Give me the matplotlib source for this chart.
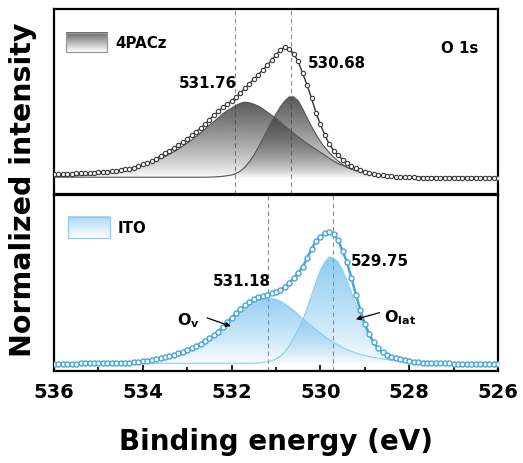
import numpy as np
import matplotlib
matplotlib.use("Agg")
import matplotlib.pyplot as plt
from matplotlib.colors import to_rgb
from matplotlib.patches import Rectangle

# ---------------- data ----------------
energy = np.linspace(536.0, 526.0, 101)   # binding-energy grid, 0.1 eV step

pacz_data = [
    0.033, 0.033, 0.034, 0.035, 0.036, 0.037, 0.038, 0.040, 0.041, 0.043,
    0.045, 0.048, 0.051, 0.055, 0.058, 0.062, 0.068, 0.074, 0.080, 0.092,
    0.105, 0.117, 0.130, 0.150, 0.170, 0.190, 0.210, 0.230, 0.250, 0.275,
    0.300, 0.328, 0.355, 0.383, 0.410, 0.445, 0.480, 0.510, 0.540, 0.565,
    0.590, 0.620, 0.650, 0.685, 0.720, 0.755, 0.790, 0.825, 0.860, 0.900,
    0.940, 0.980, 1.000, 0.985, 0.950, 0.890, 0.800, 0.710, 0.610, 0.500,
    0.410, 0.330, 0.260, 0.210, 0.175, 0.140, 0.115, 0.090, 0.075, 0.062,
    0.050, 0.041, 0.033, 0.027, 0.022, 0.018, 0.015, 0.012, 0.010, 0.008,
    0.007, 0.006, 0.005, 0.005, 0.004, 0.004, 0.003, 0.003, 0.003, 0.002,
    0.002, 0.002, 0.001, 0.001, 0.001, 0.001, 0.000, 0.000, 0.000, 0.000,
    0.000]

pacz_peak1 = [   # component centred at 531.76 eV
    0.012, 0.013, 0.014, 0.015, 0.016, 0.018, 0.020, 0.022, 0.025, 0.028,
    0.032, 0.036, 0.040, 0.044, 0.048, 0.052, 0.058, 0.064, 0.072, 0.085,
    0.097, 0.110, 0.123, 0.136, 0.150, 0.165, 0.183, 0.202, 0.222, 0.245,
    0.268, 0.292, 0.318, 0.345, 0.375, 0.405, 0.432, 0.460, 0.490, 0.515,
    0.535, 0.556, 0.572, 0.580, 0.575, 0.565, 0.550, 0.530, 0.505, 0.480,
    0.455, 0.428, 0.398, 0.370, 0.342, 0.315, 0.290, 0.265, 0.242, 0.220,
    0.198, 0.175, 0.153, 0.130, 0.112, 0.097, 0.083, 0.070, 0.060, 0.052,
    0.045, 0.039, 0.033, 0.028, 0.023, 0.019, 0.016, 0.013, 0.011, 0.010,
    0.009, 0.008, 0.008, 0.008, 0.008, 0.008, 0.008, 0.008, 0.008, 0.008,
    0.008, 0.008, 0.008, 0.008, 0.008, 0.008, 0.008, 0.008, 0.008, 0.008,
    0.008]

pacz_peak2 = [   # component centred at 530.68 eV
    0.008, 0.008, 0.008, 0.008, 0.008, 0.008, 0.008, 0.008, 0.008, 0.008,
    0.008, 0.008, 0.008, 0.008, 0.008, 0.008, 0.008, 0.008, 0.008, 0.008,
    0.008, 0.008, 0.008, 0.008, 0.008, 0.008, 0.008, 0.008, 0.008, 0.008,
    0.008, 0.008, 0.008, 0.008, 0.008, 0.009, 0.010, 0.012, 0.015, 0.019,
    0.025, 0.036, 0.055, 0.085, 0.125, 0.175, 0.235, 0.300, 0.365, 0.430,
    0.490, 0.545, 0.590, 0.620, 0.620, 0.590, 0.530, 0.460, 0.395, 0.335,
    0.280, 0.235, 0.195, 0.160, 0.130, 0.105, 0.085, 0.070, 0.058, 0.048,
    0.040, 0.033, 0.027, 0.022, 0.018, 0.015, 0.013, 0.011, 0.010, 0.009,
    0.008, 0.008, 0.008, 0.008, 0.008, 0.008, 0.008, 0.008, 0.008, 0.008,
    0.008, 0.008, 0.008, 0.008, 0.008, 0.008, 0.008, 0.008, 0.008, 0.008,
    0.008]

ito_data = [
    0.004, 0.004, 0.004, 0.005, 0.005, 0.005, 0.006, 0.006, 0.007, 0.007,
    0.008, 0.008, 0.009, 0.010, 0.010, 0.011, 0.012, 0.013, 0.015, 0.018,
    0.021, 0.025, 0.031, 0.037, 0.044, 0.052, 0.062, 0.072, 0.083, 0.095,
    0.108, 0.122, 0.137, 0.155, 0.175, 0.195, 0.218, 0.245, 0.280, 0.318,
    0.352, 0.385, 0.415, 0.445, 0.470, 0.490, 0.505, 0.515, 0.525, 0.535,
    0.548, 0.563, 0.585, 0.615, 0.650, 0.690, 0.735, 0.800, 0.870, 0.930,
    0.960, 0.990, 1.000, 0.985, 0.935, 0.855, 0.770, 0.650, 0.525, 0.410,
    0.305, 0.225, 0.165, 0.120, 0.090, 0.072, 0.058, 0.046, 0.037, 0.030,
    0.024, 0.020, 0.016, 0.013, 0.011, 0.009, 0.008, 0.007, 0.006, 0.006,
    0.005, 0.005, 0.005, 0.004, 0.004, 0.004, 0.004, 0.003, 0.003, 0.003,
    0.003]

ito_ov = [       # O_v component, 531.18 eV
    0.003, 0.003, 0.003, 0.004, 0.004, 0.004, 0.005, 0.005, 0.006, 0.006,
    0.007, 0.007, 0.008, 0.009, 0.009, 0.010, 0.011, 0.012, 0.014, 0.017,
    0.020, 0.024, 0.029, 0.034, 0.040, 0.047, 0.056, 0.065, 0.075, 0.086,
    0.098, 0.111, 0.126, 0.143, 0.161, 0.181, 0.203, 0.230, 0.262, 0.297,
    0.330, 0.362, 0.392, 0.420, 0.445, 0.465, 0.482, 0.494, 0.500, 0.498,
    0.490, 0.475, 0.455, 0.432, 0.405, 0.375, 0.345, 0.318, 0.290, 0.262,
    0.235, 0.210, 0.187, 0.165, 0.145, 0.127, 0.111, 0.097, 0.085, 0.074,
    0.066, 0.058, 0.051, 0.045, 0.040, 0.036, 0.032, 0.029, 0.026, 0.023,
    0.021, 0.019, 0.017, 0.015, 0.014, 0.013, 0.012, 0.011, 0.010, 0.009,
    0.009, 0.008, 0.008, 0.007, 0.007, 0.006, 0.006, 0.006, 0.005, 0.005,
    0.005]

ito_olat = [     # O_lat component, 529.75 eV
    0.008, 0.008, 0.008, 0.008, 0.008, 0.008, 0.008, 0.008, 0.008, 0.008,
    0.008, 0.008, 0.008, 0.008, 0.008, 0.008, 0.008, 0.008, 0.008, 0.008,
    0.008, 0.008, 0.008, 0.008, 0.008, 0.008, 0.008, 0.008, 0.008, 0.008,
    0.008, 0.008, 0.008, 0.008, 0.008, 0.008, 0.008, 0.008, 0.008, 0.008,
    0.008, 0.008, 0.008, 0.008, 0.008, 0.008, 0.010, 0.013, 0.018, 0.027,
    0.040, 0.060, 0.095, 0.140, 0.200, 0.265, 0.335, 0.420, 0.520, 0.620,
    0.710, 0.770, 0.810, 0.800, 0.770, 0.710, 0.630, 0.540, 0.450, 0.370,
    0.290, 0.220, 0.160, 0.120, 0.085, 0.060, 0.043, 0.031, 0.023, 0.017,
    0.013, 0.011, 0.010, 0.009, 0.009, 0.009, 0.009, 0.009, 0.009, 0.009,
    0.009, 0.009, 0.009, 0.009, 0.009, 0.009, 0.009, 0.009, 0.009, 0.009,
    0.009]

pacz_centres = [531.92, 530.66]     # dashed guide lines
ito_centres = [531.18, 529.71]
pacz_labels = ["531.76", "530.68"]
ito_labels = ["531.18", "529.75"]
xticks_major = [536, 534, 532, 530, 528, 526]
xticks_minor = [535, 533, 531, 529, 527]

# ---------------- style ----------------
plt.rcParams["font.family"] = ["DejaVu Sans"]
plt.rcParams["font.weight"] = "bold"
plt.rcParams["mathtext.fontset"] = "dejavusans"
plt.rcParams["mathtext.default"] = "bf"

W, H = 523, 464
fig = plt.figure(figsize=(W / 100, H / 100), dpi=100)

def box(l, t, r, b):
    return [l / W, 1 - b / H, (r - l) / W, (b - t) / H]

ax1 = fig.add_axes(box(54, 10, 498, 195))
ax2 = fig.add_axes(box(54, 196, 498, 372))

x = np.asarray(energy)
ANN = 10.8

def grad_rgba(color, amax, gamma=0.8, n=256):
    rgba = np.zeros((n, 1, 4))
    rgba[..., :3] = to_rgb(color)
    rgba[..., 3] = (amax * np.linspace(0, 1, n) ** gamma)[:, None]
    return rgba

def gradient_fill(ax, y, base, color, amax, z):
    y = np.asarray(y)
    poly = ax.fill_between(x, base, y, facecolor="none", edgecolor="none", zorder=z)
    im = ax.imshow(grad_rgba(color, amax), extent=[x.max(), x.min(), base, y.max()],
                   origin="lower", aspect="auto", zorder=z, interpolation="bilinear")
    im.set_clip_path(poly.get_paths()[0], transform=ax.transData)

def legend_patch(ax, x0, y0, x1, y1, color, amax, edge, text):
    ax.add_patch(Rectangle((x0, y0), x1 - x0, y1 - y0, transform=ax.transAxes,
                           facecolor="white", edgecolor="none", zorder=5.5))
    ax.imshow(grad_rgba(color, amax, gamma=1.0, n=64), extent=[x0, x1, y0, y1],
              origin="lower", aspect="auto", transform=ax.transAxes, zorder=6)
    ax.add_patch(Rectangle((x0, y0), x1 - x0, y1 - y0, transform=ax.transAxes,
                           fill=False, edgecolor=edge, lw=0.9, zorder=7))
    ax.text(x1 + 0.018, (y0 + y1) / 2, text, transform=ax.transAxes, fontsize=ANN,
            fontweight="bold", va="center", ha="left", zorder=7)

# ---------------- top panel: 4PACz ----------------
gradient_fill(ax1, pacz_peak1, 0.0, "#3c3c3c", 0.85, 2)
gradient_fill(ax1, pacz_peak2, 0.0, "#3c3c3c", 0.85, 2.2)
ax1.plot(x, pacz_peak1, color="#555555", lw=0.8, zorder=3)
ax1.plot(x, pacz_peak2, color="#555555", lw=0.8, zorder=3)
ax1.plot(x, pacz_data, "-", color="#333333", lw=1.0, zorder=4)
ax1.plot(x, pacz_data, "o", ms=3.1, mfc="white", mec="#3a3a3a", mew=0.8, zorder=5)
for c in pacz_centres:
    ax1.axvline(c, color="#8a8a8a", lw=0.8, ls=(0, (4, 3)), zorder=1)
ax1.set_xlim(536, 526)
ax1.set_ylim(-0.12, 1.29)
ax1.text(532.53, 0.727, pacz_labels[0], fontsize=ANN, fontweight="bold", ha="center", va="center", zorder=8)
ax1.text(529.63, 0.88, pacz_labels[1], fontsize=ANN, fontweight="bold", ha="center", va="center", zorder=8)
ax1.text(0.955, 0.79, "O 1s", transform=ax1.transAxes, fontsize=ANN, fontweight="bold",
         ha="right", va="center")
legend_patch(ax1, 0.027, 0.765, 0.12, 0.87, "#4a4a4a", 0.85, "#999999", "4PACz")

# ---------------- bottom panel: ITO ----------------
gradient_fill(ax2, ito_ov, 0.0, "#4fb0e6", 0.6, 2)
gradient_fill(ax2, ito_olat, 0.0, "#4fb0e6", 0.65, 2.2)
ax2.plot(x, ito_ov, color="#8ccdf0", lw=0.8, zorder=3)
ax2.plot(x, ito_olat, color="#8ccdf0", lw=0.8, zorder=3)
ax2.plot(x, ito_data, "-", color="#47a6e0", lw=1.8, zorder=4)
ax2.plot(x, ito_data, "o", ms=3.6, mfc="white", mec="#47a6e0", mew=1.0, zorder=5)
for c in ito_centres:
    ax2.axvline(c, color="#8a8a8a", lw=0.8, ls=(0, (4, 3)), zorder=1)
ax2.set_xlim(536, 526)
ax2.set_ylim(-0.051, 1.278)
ax2.text(531.77, 0.63, ito_labels[0], fontsize=ANN, fontweight="bold", ha="center", va="center", zorder=8)
ax2.text(528.66, 0.78, ito_labels[1], fontsize=ANN, fontweight="bold", ha="center", va="center", zorder=8)
ax2.annotate("", xy=(531.96, 0.28), xytext=(532.61, 0.357),
             arrowprops=dict(arrowstyle="-|>", color="black", lw=0.9, mutation_scale=7), zorder=8)
ax2.text(532.98, 0.334, r"O$_{v}$", fontsize=11.5, fontweight="bold", ha="center", va="center", zorder=8)
ax2.annotate("", xy=(529.26, 0.334), xytext=(528.61, 0.395),
             arrowprops=dict(arrowstyle="-|>", color="black", lw=0.9, mutation_scale=7), zorder=8)
ax2.text(528.2, 0.357, r"O$_{lat}$", fontsize=11.5, fontweight="bold", ha="center", va="center", zorder=8)
legend_patch(ax2, 0.032, 0.755, 0.126, 0.875, "#6dbfeb", 0.6, "#8fcbee", "ITO")

# ---------------- axes cosmetics ----------------
for ax in (ax1, ax2):
    for s in ax.spines.values():
        s.set_linewidth(1.6)
        s.set_color("black")
    ax.set_yticks([])

ax1.set_xticks([])
ax2.set_xticks(xticks_major)
ax2.set_xticks(xticks_minor, minor=True)
ax2.set_xticklabels([str(t) for t in xticks_major])
ax2.tick_params(axis="x", which="both", direction="in", width=1.2, labelsize=14, pad=8)
ax2.tick_params(axis="x", which="major", length=4)
ax2.tick_params(axis="x", which="minor", length=3)
for lab in ax2.get_xticklabels():
    lab.set_fontweight("bold")
ax2.set_xlabel("Binding energy (eV)", fontsize=20, fontweight="bold", labelpad=19)

fig.text(23 / W, 1 - 190 / H, "Normalized intensity", rotation=90, fontsize=20.5,
         fontweight="bold", ha="center", va="center")

fig.savefig("out.png", dpi=100)
